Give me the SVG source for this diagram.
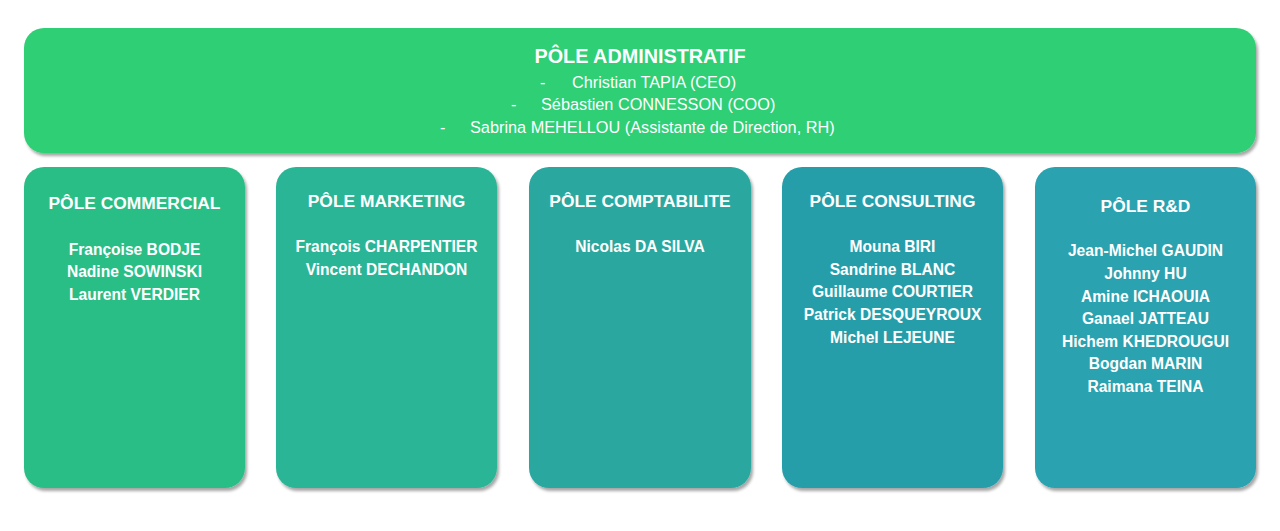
<svg xmlns="http://www.w3.org/2000/svg" width="1280" height="531" viewBox="0 0 1280 531">
  <defs>
    <filter id="shadow" x="-5%" y="-5%" width="112%" height="115%">
      <feDropShadow dx="2" dy="3" stdDeviation="1.8" flood-color="#000" flood-opacity="0.35"/>
    </filter>
    <style>
      .box { filter: url(#shadow); }
      text { font-family: "Liberation Sans", Arial, sans-serif; fill: #ffffff; }
      .title { font-size: 19.8px; font-weight: bold; text-anchor: middle; }
      .item { font-size: 16.3px; }
      .head { font-size: 17.4px; font-weight: bold; text-anchor: middle; }
      .name { font-size: 15.6px; font-weight: bold; text-anchor: middle; }
    </style>
  </defs>
  <rect width="1280" height="531" fill="#ffffff"/>

  <g id="connectors"></g>

  <g id="pole-administratif">
    <rect class="box" x="24" y="28" width="1232" height="125" rx="20" fill="#2ECF74"/>
    <text class="title" x="640" y="63">PÔLE ADMINISTRATIF</text>
    <text class="item" x="540" y="88">-</text>
    <text class="item" x="572" y="88">Christian TAPIA (CEO)</text>
    <text class="item" x="511" y="110">-</text>
    <text class="item" x="541" y="110">Sébastien CONNESSON (COO)</text>
    <text class="item" x="440" y="133">-</text>
    <text class="item" x="470" y="133">Sabrina MEHELLOU (Assistante de Direction, RH)</text>
  </g>

  <g id="pole-commercial">
    <rect class="box" x="24" y="167" width="221" height="321" rx="20" fill="#2BBE87"/>
    <text class="head" x="134.5" y="209">PÔLE COMMERCIAL</text>
    <text class="name" x="134.5" y="255">Françoise BODJE</text>
    <text class="name" x="134.5" y="277">Nadine SOWINSKI</text>
    <text class="name" x="134.5" y="300">Laurent VERDIER</text>
  </g>

  <g id="pole-marketing">
    <rect class="box" x="276" y="167" width="221" height="321" rx="20" fill="#2BB597"/>
    <text class="head" x="386.5" y="207">PÔLE MARKETING</text>
    <text class="name" x="386.5" y="252">François CHARPENTIER</text>
    <text class="name" x="386.5" y="275">Vincent DECHANDON</text>
  </g>

  <g id="pole-comptabilite">
    <rect class="box" x="529" y="167" width="222" height="321" rx="20" fill="#29A8A0"/>
    <text class="head" x="640" y="207">PÔLE COMPTABILITE</text>
    <text class="name" x="640" y="252">Nicolas DA SILVA</text>
  </g>

  <g id="pole-consulting">
    <rect class="box" x="782" y="167" width="221" height="321" rx="20" fill="#289EAA"/>
    <text class="head" x="892.5" y="207">PÔLE CONSULTING</text>
    <text class="name" x="892.5" y="252">Mouna BIRI</text>
    <text class="name" x="892.5" y="275">Sandrine BLANC</text>
    <text class="name" x="892.5" y="297">Guillaume COURTIER</text>
    <text class="name" x="892.5" y="320">Patrick DESQUEYROUX</text>
    <text class="name" x="892.5" y="343">Michel LEJEUNE</text>
  </g>

  <g id="pole-rd">
    <rect class="box" x="1035" y="167" width="221" height="321" rx="20" fill="#29A2B0"/>
    <text class="head" x="1145.5" y="212">PÔLE R&amp;D</text>
    <text class="name" x="1145.5" y="256">Jean-Michel GAUDIN</text>
    <text class="name" x="1145.5" y="279">Johnny HU</text>
    <text class="name" x="1145.5" y="302">Amine ICHAOUIA</text>
    <text class="name" x="1145.5" y="324">Ganael JATTEAU</text>
    <text class="name" x="1145.5" y="347">Hichem KHEDROUGUI</text>
    <text class="name" x="1145.5" y="369">Bogdan MARIN</text>
    <text class="name" x="1145.5" y="392">Raimana TEINA</text>
  </g>
</svg>
